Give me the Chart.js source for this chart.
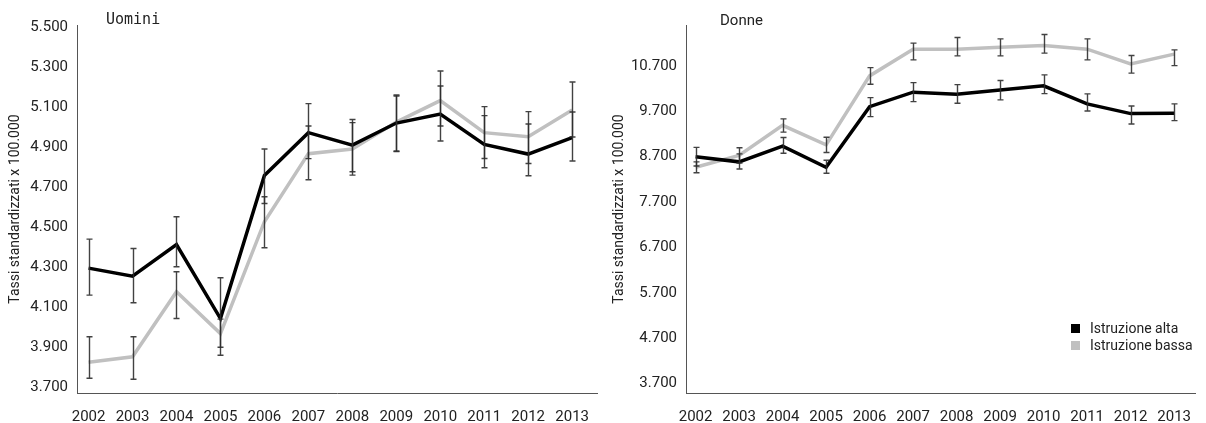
<!DOCTYPE html>
<html>
<head>
<meta charset="utf-8">
<script src="https://cdn.jsdelivr.net/npm/chart.js@4.4.1/dist/chart.umd.min.js"></script>
<style>
  html, body { margin: 0; padding: 0; background: #fff; width: 1206px; height: 423px; overflow: hidden; }
  #wrap { position: relative; width: 1206px; height: 423px; }
  canvas { position: absolute; top: 0; }
  .ttl { position: absolute; color: #222; white-space: nowrap; line-height: 1; }
  #legend { position: absolute; left: 1071px; top: 320px; font-family: Roboto, sans-serif; font-size: 14px; color: #222; }
  #legend div { height: 17px; line-height: 17px; white-space: nowrap; }
  #legend span.sw { display: inline-block; width: 9px; height: 9px; margin-right: 10px; vertical-align: 0px; }
</style>
</head>
<body>
<div id="wrap">
  <canvas id="cL" width="604" height="423" style="left:0px"></canvas>
  <canvas id="cR" width="602" height="423" style="left:604px"></canvas>
  <div class="ttl" id="tL" style="left:106px; top:12px; font-family:'DejaVu Sans Mono', monospace; font-size:15px;"></div>
  <div class="ttl" id="tR" style="left:720px; top:13px; font-family:Roboto, sans-serif; font-size:15px;"></div>
  <div id="legend"></div>
</div>
<script>
// ---------- data ----------
const years = [2002, 2003, 2004, 2005, 2006, 2007, 2008, 2009, 2010, 2011, 2012, 2013];
const seriesNames = ['Istruzione alta', 'Istruzione bassa'];
const panelTitles = ['Uomini', 'Donne'];
const yAxisTitle = 'Tassi standardizzati x 100.000';

// Uomini
const uominiAlta      = [4295, 4255, 4413, 4043, 4758, 4972, 4910, 5020, 5065, 4913, 4865, 4947];
const uominiAltaHigh  = [4440, 4393, 4552, 4247, 4890, 5117, 5038, 5155, 5205, 5057, 5015, 5075];
const uominiAltaLow   = [4160, 4122, 4302, 3860, 4618, 4842, 4777, 4877, 4930, 4797, 4757, 4830];
const uominiBassa     = [3825, 3852, 4177, 3968, 4527, 4867, 4890, 5025, 5132, 4972, 4952, 5085];
const uominiBassaHigh = [3952, 3952, 4277, 4040, 4652, 5005, 5022, 5160, 5280, 5102, 5077, 5225];
const uominiBassaLow  = [3745, 3740, 4043, 3900, 4397, 4737, 4760, 4880, 5005, 4843, 4818, 4950];
const uominiTicks     = [3700, 3900, 4100, 4300, 4500, 4700, 4900, 5100, 5300, 5500];

// Donne
const donneAlta       = [8700, 8585, 8930, 8465, 9800, 10120, 10075, 10170, 10259, 9862, 9648, 9656];
const donneAltaHigh   = [8905, 8760, 9120, 8620, 10000, 10331, 10287, 10376, 10501, 10082, 9817, 9862];
const donneAltaLow    = [8495, 8428, 8774, 8333, 9581, 9912, 9877, 9950, 10089, 9707, 9420, 9493];
const donneBassa      = [8465, 8725, 9390, 8960, 10479, 11068, 11068, 11112, 11148, 11068, 10744, 10958];
const donneBassaHigh  = [8585, 8897, 9531, 9127, 10662, 11200, 11324, 11295, 11390, 11295, 10927, 11053];
const donneBassaLow   = [8345, 8560, 9240, 8790, 10296, 10832, 10920, 10920, 10980, 10832, 10539, 10706];
const donneTicks      = [3700, 4700, 5700, 6700, 7700, 8700, 9700, 10700];

// ---------- style ----------
const colAlta = '#000000';
const colBassa = '#c0c0c0';
const axisColor = '#555555';
const textColor = '#222222';

function fmtIt(v) { return String(v).replace(/\B(?=(\d{3})+(?!\d))/g, '.'); }
function pts(vals) { return years.map((yr, i) => ({ x: yr, y: vals[i] })); }

const errorBarPlugin = {
  id: 'errorBars',
  afterDatasetsDraw(chart) {
    const ctx = chart.ctx, xs = chart.scales.x, ys = chart.scales.y;
    ctx.save();
    ctx.strokeStyle = 'rgba(45,45,45,0.9)';
    ctx.lineWidth = 1.4;
    chart.data.datasets.forEach(ds => {
      if (!ds.errLow) return;
      years.forEach((yr, i) => {
        const x = Math.round(xs.getPixelForValue(yr)) + 0.5;
        const y1 = ys.getPixelForValue(ds.errHigh[i]);
        const y2 = ys.getPixelForValue(ds.errLow[i]);
        ctx.beginPath();
        ctx.moveTo(x, y1); ctx.lineTo(x, y2);
        ctx.moveTo(x - 3, y1); ctx.lineTo(x + 3, y1);
        ctx.moveTo(x - 3, y2); ctx.lineTo(x + 3, y2);
        ctx.stroke();
      });
    });
    ctx.restore();
  }
};

function makeChart(id, cfg) {
  return new Chart(document.getElementById(id), {
    type: 'line',
    data: {
      datasets: [
        { label: seriesNames[0], data: pts(cfg.alta), errHigh: cfg.altaHigh, errLow: cfg.altaLow,
          borderColor: colAlta, backgroundColor: colAlta, borderWidth: 3.5, pointRadius: 0, tension: 0, fill: false },
        { label: seriesNames[1], data: pts(cfg.bassa), errHigh: cfg.bassaHigh, errLow: cfg.bassaLow,
          borderColor: colBassa, backgroundColor: colBassa, borderWidth: 3.5, pointRadius: 0, tension: 0, fill: false }
      ]
    },
    options: {
      responsive: false,
      animation: false,
      devicePixelRatio: 1,
      layout: { padding: { top: 25, left: 0, right: 0, bottom: 0 } },
      plugins: { legend: { display: false }, tooltip: { enabled: false } },
      scales: {
        x: {
          type: 'linear', min: cfg.xMin, max: cfg.xMax,
          grid: { display: false, drawTicks: false },
          border: { display: true, color: axisColor, width: 1 },
          afterBuildTicks: s => { s.ticks = years.map(v => ({ value: v })); },
          afterFit: s => { s.height = 30; },
          ticks: { padding: 15, color: textColor, font: { family: 'Roboto', size: 15 }, maxRotation: 0, autoSkip: false,
                   callback: v => String(v) }
        },
        y: {
          type: 'linear', min: cfg.yMin, max: cfg.yMax,
          grid: { display: false, drawTicks: false },
          border: { display: true, color: axisColor, width: 1 },
          afterBuildTicks: s => { s.ticks = cfg.ticks.map(v => ({ value: v })); },
          afterFit: s => { s.width = cfg.yWidth; },
          ticks: { padding: 9, color: textColor, font: { family: 'Roboto', size: 15 }, callback: v => fmtIt(v) },
          title: { display: true, text: yAxisTitle, color: textColor, font: { family: 'Roboto', size: 14 }, padding: { top: 7, bottom: 0 } }
        }
      }
    },
    plugins: [errorBarPlugin]
  });
}

makeChart('cL', {
  alta: uominiAlta, altaHigh: uominiAltaHigh, altaLow: uominiAltaLow,
  bassa: uominiBassa, bassaHigh: uominiBassaHigh, bassaLow: uominiBassaLow,
  ticks: uominiTicks, yMin: 3671, yMax: 5510, xMin: 2001.737, xMax: 2013.585, yWidth: 77
});
makeChart('cR', {
  alta: donneAlta, altaHigh: donneAltaHigh, altaLow: donneAltaLow,
  bassa: donneBassa, bassaHigh: donneBassaHigh, bassaLow: donneBassaLow,
  ticks: donneTicks, yMin: 3493, yMax: 11600, xMin: 2001.78, xMax: 2013.49, yWidth: 82
});

document.getElementById('tL').textContent = panelTitles[0];
document.getElementById('tR').textContent = panelTitles[1];
const lg = document.getElementById('legend');
[[seriesNames[0], colAlta], [seriesNames[1], colBassa]].forEach(([name, col]) => {
  const d = document.createElement('div');
  const sw = document.createElement('span');
  sw.className = 'sw'; sw.style.background = col;
  d.appendChild(sw);
  d.appendChild(document.createTextNode(name));
  lg.appendChild(d);
});
</script>
</body>
</html>
